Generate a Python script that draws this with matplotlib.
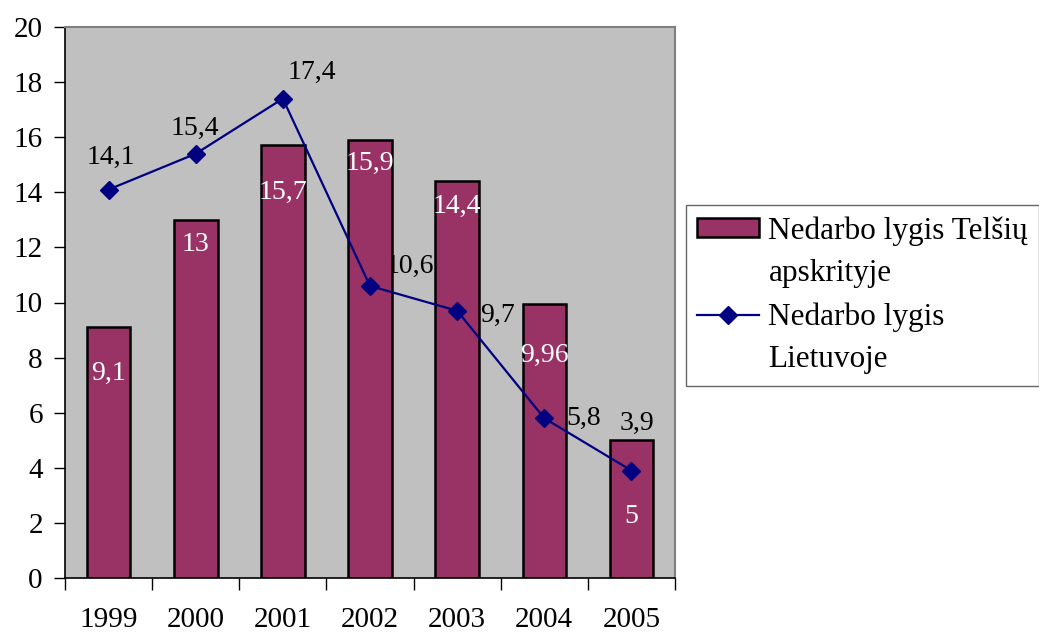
import numpy as np
import matplotlib.pyplot as plt
from matplotlib.patches import Patch
from matplotlib.lines import Line2D

# Data
years = ['1999', '2000', '2001', '2002', '2003', '2004', '2005']
telsiai = [9.1, 13, 15.7, 15.9, 14.4, 9.96, 5]
lietuva = [14.1, 15.4, 17.4, 10.6, 9.7, 5.8, 3.9]
telsiai_labels = ['9,1', '13', '15,7', '15,9', '14,4', '9,96', '5']
lietuva_labels = ['14,1', '15,4', '17,4', '10,6', '9,7', '5,8', '3,9']

plt.rcParams['font.family'] = ['Liberation Serif', 'DejaVu Serif']

bar_color = '#993366'
line_color = '#000080'

fig = plt.figure(figsize=(10.39, 6.35), dpi=100)
ax = fig.add_axes([65 / 1039, 57 / 635, 610 / 1039, 551 / 635])
ax.set_facecolor('#c0c0c0')

x = np.arange(len(years))
ax.bar(x, telsiai, width=0.5, color=bar_color, edgecolor='black', linewidth=1.8, zorder=2)
ax.plot(x, lietuva, color=line_color, linewidth=1.6, marker='D', markersize=9.5,
        markerfacecolor=line_color, markeredgecolor=line_color, zorder=3)

# bar labels (white, inside top of bar) - placed by hand in the original
bar_dy = [-33, -18, -34, -17, -18, -37, -55]
for xi, v, lab, dy in zip(x, telsiai, telsiai_labels, bar_dy):
    ax.annotate(lab, (xi, v), xytext=(0, dy), textcoords='offset points',
                ha='center', va='center', color='white', fontsize=20, zorder=4)

# line labels
offsets = [(1.5, 23), (-0.7, 18), (21, 19), (29, 14), (29, -3), (28, 0), (4, 34)]
for xi, v, lab, off in zip(x, lietuva, lietuva_labels, offsets):
    ax.annotate(lab, (xi, v), xytext=off, textcoords='offset points',
                ha='center', va='center', color='black', fontsize=20, zorder=1.5)

ax.set_xlim(-0.5, len(years) - 0.5)
ax.set_ylim(0, 20)
ax.set_yticks(np.arange(0, 21, 2))
ax.set_yticklabels([str(v) for v in range(0, 21, 2)], fontsize=21)

# category ticks on boundaries, labels centered
ax.set_xticks(np.arange(-0.5, len(years), 1.0))
ax.set_xticklabels([])
ax.set_xticks(x, minor=True)
ax.set_xticklabels(years, minor=True, fontsize=21)
ax.tick_params(axis='x', which='major', length=8.5, width=1, direction='out')
ax.tick_params(axis='x', which='minor', length=0, pad=21)
ax.tick_params(axis='y', length=8, width=1, direction='out', pad=8)

for side in ['left', 'bottom']:
    ax.spines[side].set_linewidth(1.2)
    ax.spines[side].set_color('black')
for side in ['top', 'right']:
    ax.spines[side].set_color('#808080')
    ax.spines[side].set_linewidth(1.5)

# legend: second line of each label as a separate row without handle
blank = Line2D([], [], linestyle='none')
handles = [
    Patch(facecolor=bar_color, edgecolor='black', linewidth=1.8),
    blank,
    Line2D([0], [0], color=line_color, linewidth=1.6, marker='D', markersize=9.5,
           markerfacecolor=line_color, markeredgecolor=line_color),
    blank,
]
labels = ['Nedarbo lygis Telšių', 'apskrityje', 'Nedarbo lygis', 'Lietuvoje']
leg = fig.legend(handles, labels, loc='upper left', bbox_to_anchor=(686 / 1039, 1 - 205 / 635),
                 fontsize=22.5, frameon=True, fancybox=False, edgecolor='#404040',
                 handlelength=1.97, handleheight=0.55, handletextpad=0.31,
                 borderpad=0.36, labelspacing=0.44, borderaxespad=0)
leg.get_frame().set_linewidth(1.0)

fig.savefig('out.png', dpi=100)
